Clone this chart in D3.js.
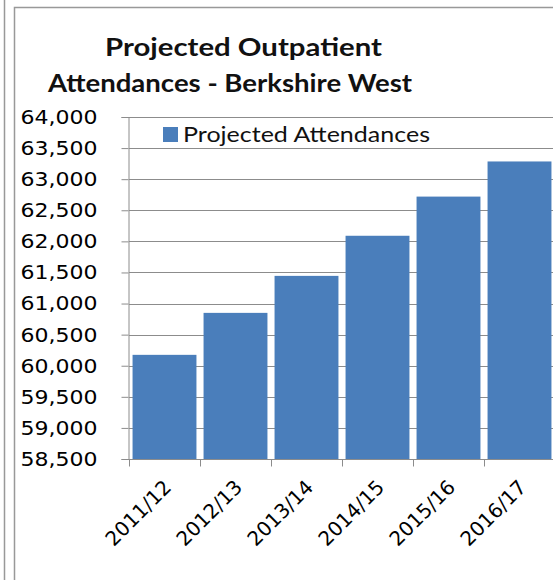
<!DOCTYPE html>
<html><head><meta charset="utf-8">
<script src="https://cdn.jsdelivr.net/npm/d3@7"></script>
<style>body{margin:0;background:#fff;overflow:hidden}</style>
</head><body>
<script>
const categories = ["2011/12","2012/13","2013/14","2014/15","2015/16","2016/17"];
const attendances = [60175, 60850, 61445, 62090, 62720, 63285];
const yTicks = [58500,59000,59500,60000,60500,61000,61500,62000,62500,63000,63500,64000];
const titleLines = ["Projected Outpatient","Attendances - Berkshire West"];
const seriesName = "Projected Attendances";

const W=553,H=580;
const svg=d3.select("body").append("svg").attr("width",W).attr("height",H);
svg.append("rect").attr("width",W).attr("height",H).attr("fill","#fff");
// outer lines
svg.append("line").attr("x1",4.5).attr("x2",4.5).attr("y1",0).attr("y2",H).attr("stroke","#999").attr("stroke-width",1.5);
svg.append("rect").attr("x",14.5).attr("y",7.5).attr("width",W+20).attr("height",H+20).attr("fill","none").attr("stroke","#999").attr("stroke-width",1.5);

const x=d3.scaleBand().domain(categories).range([129,555]).paddingInner(0.1).paddingOuter(0.05);
const y=d3.scaleLinear().domain([58500,64000]).range([459,117]);

// gridlines
svg.append("g").selectAll("line").data(yTicks).join("line")
 .attr("x1",129).attr("x2",W).attr("y1",d=>Math.round(y(d))+0.5).attr("y2",d=>Math.round(y(d))+0.5)
 .attr("stroke","#8c8c8c").attr("stroke-width",1);

// bars
svg.append("g").selectAll("rect").data(attendances).join("rect")
 .attr("x",(d,i)=>x(categories[i])).attr("width",x.bandwidth())
 .attr("y",d=>y(d)).attr("height",d=>y(58500)-y(d))
 .attr("fill","#4a7ebb");

// y axis
const ya=svg.append("g").attr("transform","translate(128.5,0)")
 .call(d3.axisLeft(y).tickValues(yTicks).tickFormat(d3.format(",")).tickSizeOuter(0).tickSize(7).tickPadding(24));
ya.select(".domain").attr("stroke","#8c8c8c");
ya.selectAll(".tick line").attr("stroke","#8c8c8c");
ya.selectAll("text").attr("font-family","DejaVu Sans").attr("font-size",20).attr("fill","#000")
 .attr("textLength",77).attr("lengthAdjust","spacingAndGlyphs");

// x axis
const xa=svg.append("g").attr("transform","translate(0,459.5)");
xa.append("line").attr("x1",128).attr("x2",W).attr("stroke","#8c8c8c");
const bounds=categories.map(c=>x(c)-x.step()*x.paddingInner()/2);
xa.selectAll(".tk").data(bounds).join("line").attr("class","tk")
 .attr("x1",d=>Math.round(d)+0.5).attr("x2",d=>Math.round(d)+0.5).attr("y1",0).attr("y2",7).attr("stroke","#8c8c8c");
xa.selectAll("text").data(categories).join("text")
 .attr("transform",d=>`translate(${x(d)+x.bandwidth()/2+8},${29}) rotate(-45)`)
 .attr("text-anchor","end").attr("font-family","DejaVu Sans").attr("font-size",20).attr("fill","#000")
 .text(d=>d);

// title
svg.append("g").selectAll("text").data(titleLines).join("text")
 .attr("x",(d,i)=>i===0?243.5:230).attr("y",(d,i)=>56+i*36)
 .attr("text-anchor","middle").attr("font-family","Lato").attr("font-weight","bold").attr("font-size",25)
 .attr("textLength",(d,i)=>i===0?277:364).attr("lengthAdjust","spacingAndGlyphs")
 .attr("fill","#111").text(d=>d);

// legend
svg.append("rect").attr("x",163).attr("y",127).attr("width",15).attr("height",15).attr("fill","#4a7ebb");
svg.append("text").attr("x",183).attr("y",142).attr("font-family","Lato").attr("font-size",22)
 .attr("textLength",247).attr("lengthAdjust","spacingAndGlyphs")
 .attr("fill","#111").text(seriesName);
</script>
</body></html>
